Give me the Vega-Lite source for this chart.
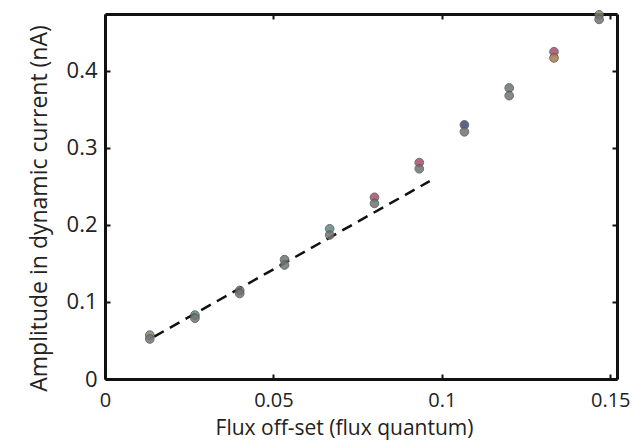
{
  "$schema": "https://vega.github.io/schema/vega-lite/v6.json",
  "autosize": "none",
  "width": 512,
  "height": 365,
  "padding": {"left": 105, "top": 14, "right": 15, "bottom": 66},
  "background": "white",
  "config": {
    "font": "Open Sans",
    "view": {"stroke": null},
    "axis": {
      "grid": false,
      "domain": true,
      "domainColor": "#111",
      "domainWidth": 3,
      "tickColor": "#111",
      "tickSize": -5,
      "tickWidth": 2,
      "labelFontSize": 22,
      "labelColor": "#222",
      "titleFontSize": 23,
      "titleFontWeight": "normal",
      "titleColor": "#222",
      "labelFont": "Open Sans",
      "titleFont": "Open Sans"
    }
  },
  "resolve": {"axis": {"x": "independent", "y": "independent"}},
  "layer": [
    {
      "data": {"values": [
        {"x": 0.0146, "y": 0.055},
        {"x": 0.0964, "y": 0.257}
      ]},
      "mark": {"type": "line", "color": "#111", "strokeWidth": 2.5, "strokeDash": [11, 7]},
      "encoding": {
        "x": {
          "field": "x", "type": "quantitative",
          "scale": {"domain": [0, 0.152], "nice": false, "zero": false},
          "axis": {"orient": "top", "values": [0, 0.05, 0.1, 0.15], "labels": false, "title": null}
        },
        "y": {
          "field": "y", "type": "quantitative",
          "scale": {"domain": [0, 0.474], "nice": false},
          "axis": {"orient": "right", "values": [0, 0.1, 0.2, 0.3, 0.4], "labels": false, "title": null}
        }
      }
    },
    {
      "data": {"values": [
        {"x": 0.0133, "y": 0.057, "run": "A"},
        {"x": 0.0133, "y": 0.052, "run": "C"},
        {"x": 0.0267, "y": 0.083, "run": "B"},
        {"x": 0.0267, "y": 0.079, "run": "C"},
        {"x": 0.04, "y": 0.115, "run": "C"},
        {"x": 0.04, "y": 0.111, "run": "C"},
        {"x": 0.0533, "y": 0.155, "run": "C"},
        {"x": 0.0533, "y": 0.148, "run": "C"},
        {"x": 0.0667, "y": 0.195, "run": "B"},
        {"x": 0.0667, "y": 0.187, "run": "C"},
        {"x": 0.08, "y": 0.236, "run": "D"},
        {"x": 0.08, "y": 0.228, "run": "C"},
        {"x": 0.0933, "y": 0.281, "run": "D"},
        {"x": 0.0933, "y": 0.273, "run": "C"},
        {"x": 0.1067, "y": 0.330, "run": "E"},
        {"x": 0.1067, "y": 0.321, "run": "C"},
        {"x": 0.12, "y": 0.378, "run": "C"},
        {"x": 0.12, "y": 0.368, "run": "C"},
        {"x": 0.1333, "y": 0.425, "run": "D"},
        {"x": 0.1333, "y": 0.417, "run": "F"},
        {"x": 0.1467, "y": 0.473, "run": "A"},
        {"x": 0.1467, "y": 0.467, "run": "C"}
      ]},
      "mark": {"type": "circle", "size": 75, "opacity": 0.85, "stroke": "#555", "strokeWidth": 1},
      "encoding": {
        "x": {
          "field": "x", "type": "quantitative",
          "scale": {"domain": [0, 0.152], "nice": false, "zero": false},
          "axis": {"orient": "bottom", "values": [0, 0.05, 0.1, 0.15], "labelExpr": "datum.value == 0 ? '0' : format(datum.value, '~g')", "title": "Flux off-set (flux quantum)", "labelPadding": 16, "titlePadding": 7, "labelFlush": false, "titleX": 239, "titleFontSize": 21, "labelFontSize": 20}
        },
        "y": {
          "field": "y", "type": "quantitative",
          "scale": {"domain": [0, 0.474], "nice": false},
          "axis": {"orient": "left", "values": [0, 0.1, 0.2, 0.3, 0.4], "labelExpr": "datum.value == 0 ? '0' : format(datum.value, '~g')", "title": "Amplitude in dynamic current (nA)", "labelPadding": 13, "titlePadding": 15, "titleY": 194}
        },
        "color": {
          "field": "run", "type": "nominal", "legend": null,
          "scale": {"domain": ["A", "B", "C", "D", "E", "F"], "range": ["#7e8a6e", "#5f8a86", "#6f7474", "#a8506a", "#3f4a78", "#b07a4a"]}
        }
      }
    }
  ]
}
